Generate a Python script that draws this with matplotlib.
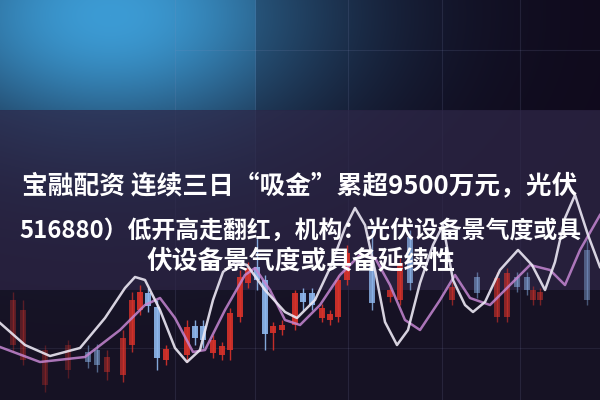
import numpy as np
import matplotlib.pyplot as plt

plt.rcParams['font.family'] = ['Noto Sans CJK SC', 'DejaVu Sans']

# title lines (as they appear, wrapped)
line1 = "宝融配资 连续三日“吸金”累超9500万元，光伏"
line2 = "516880）低开高走翻红，机构：光伏设备景气度或具"
line3 = "伏设备景气度或具备延续性"

# candles: x position, body top, body bottom, wick top, wick bottom, up/down, strength
cx = [13, 23, 45, 68, 88, 97, 107, 123, 132, 140, 148, 157, 166, 187, 195, 203, 213, 222,
      230, 240, 248, 257, 265, 273, 282, 295, 303, 312, 322, 330, 338, 347, 372, 390, 400,
      410, 452, 477, 497, 507, 517, 527, 533, 540, 587]
c_top = [300, 310, 350, 345, 352, 350, 357, 338, 300, 292, 293, 307, 349, 327, 326, 326, 340, 346,
         313, 277, 268, 267, 280, 326, 325, 293, 293, 293, 308, 314, 280, 253, 267, 290, 263,
         237, 287, 277, 278, 273, 277, 277, 290, 292, 250]
c_bot = [345, 360, 385, 370, 362, 365, 372, 375, 345, 310, 306, 358, 360, 355, 338, 340, 353, 355,
         350, 317, 283, 280, 334, 333, 330, 325, 302, 305, 318, 320, 317, 280, 303, 297, 300,
         283, 300, 293, 317, 317, 287, 290, 300, 300, 300]
w_top = [292, 300, 345, 340, 345, 344, 350, 330, 292, 285, 288, 300, 345, 320, 320, 320, 335, 342,
         308, 270, 262, 237, 275, 322, 320, 290, 288, 288, 304, 310, 275, 245, 230, 285, 258,
         230, 282, 272, 272, 268, 272, 272, 286, 288, 240]
w_bot = [352, 365, 392, 378, 368, 372, 380, 382, 352, 315, 312, 370, 365, 362, 345, 348, 358, 360,
         360, 322, 288, 290, 350, 350, 335, 330, 310, 310, 322, 325, 322, 285, 310, 302, 305,
         290, 305, 298, 322, 322, 292, 295, 305, 305, 305]
c_up = [1, 1, 1, 1, 0, 0, 1, 1, 1, 1, 0, 0, 1, 1, 0, 0, 1, 1,
        1, 1, 1, 0, 0, 1, 1, 1, 0, 0, 1, 1, 1, 1, 0, 1, 1,
        0, 1, 0, 1, 1, 0, 0, 1, 1, 0]
c_alpha = [0.35, 0.35, 0.3, 0.3, 0.5, 0.5, 0.45, 0.7, 0.8, 0.9, 0.9, 0.9, 0.9, 0.9, 0.9, 0.9, 0.9, 0.9,
           0.9, 0.9, 0.9, 0.9, 0.9, 0.9, 0.9, 0.9, 0.9, 0.9, 0.9, 0.9, 0.9, 0.9, 0.8, 0.8, 0.8,
           0.7, 0.6, 0.5, 0.6, 0.6, 0.5, 0.5, 0.5, 0.5, 0.4]

# moving average lines
white_x = [0, 25, 50, 80, 105, 125, 135, 145, 160, 175, 187, 200, 213, 223, 235, 247, 265, 285,
           297, 315, 330, 345, 355, 365, 375, 385, 397, 408, 420, 433, 443, 453, 465, 473, 485,
           500, 518, 532, 545, 555, 565, 575, 588, 600]
white_y = [323, 345, 356, 348, 318, 288, 277, 280, 310, 348, 362, 350, 300, 272, 262, 265, 290, 312,
           318, 300, 268, 228, 208, 225, 270, 322, 345, 330, 283, 245, 225, 280, 305, 312, 302,
           270, 250, 265, 290, 262, 218, 195, 235, 267]
pink_x = [0, 40, 85, 120, 145, 160, 175, 193, 205, 225, 245, 255, 270, 285, 300, 320, 340, 360,
          375, 390, 405, 420, 440, 455, 470, 490, 510, 530, 550, 565, 580, 600]
pink_y = [347, 362, 357, 330, 305, 298, 318, 352, 350, 310, 275, 268, 290, 320, 325, 305, 275, 255,
          258, 285, 320, 330, 300, 275, 298, 305, 285, 265, 270, 285, 250, 215]

fig = plt.figure(figsize=(6, 4), dpi=100, facecolor='#140c1e')
ax = fig.add_axes([0, 0, 1, 1])
ax.set_axis_off()

# background: dark purple with a blue glow at top left
yy, xx = np.mgrid[0:400, 0:600]
base = np.zeros((400, 600, 3))
base[:, :] = [16, 10, 28]
base[yy > 110] = [22, 18, 36]
glow = np.exp(-((xx - 110) / 230.0) ** 2 - ((yy - 15) / 140.0) ** 2)
glow[xx > 255] *= 0.75
blue = np.array([60, 155, 212])
bg = base * (1 - glow[..., None]) + blue * glow[..., None]
bg = np.clip(bg, 0, 255).astype(np.uint8)
ax.imshow(bg, extent=(0, 600, 400, 0), aspect='auto', zorder=0)
ax.set_xlim(0, 600)
ax.set_ylim(400, 0)

# faint grid of the chart picture
for gx in [175, 255, 348, 442, 520]:
    ax.axvline(gx, color='#8a90c0', lw=0.8, alpha=0.15, zorder=1)
ax.hlines(50, 175, 600, color='#8a90c0', lw=0.8, alpha=0.15, zorder=1)
ax.axhline(348, color='#8a90c0', lw=0.8, alpha=0.12, zorder=1)

# translucent band behind the title
ax.add_patch(plt.Rectangle((0, 110), 600, 180, facecolor='#2d2546', alpha=0.7, zorder=2, lw=0))

# candles
for i in range(len(cx)):
    col = '#d8322a' if c_up[i] else '#8fb8ee'
    ax.vlines(cx[i], w_top[i], w_bot[i], color=col, lw=1, alpha=c_alpha[i], zorder=3)
    ax.bar(cx[i], c_bot[i] - c_top[i], bottom=c_top[i], width=6, color=col,
           alpha=c_alpha[i], zorder=3, lw=0)

ax.plot(pink_x, pink_y, color='#c586d2', lw=1.8, alpha=0.85, zorder=4)
ax.plot(white_x, white_y, color='#ece8f4', lw=1.8, alpha=0.9, zorder=5)

# title text
kw = dict(color='white', fontweight='bold', va='center', zorder=10)
ax.text(300, 187, line1, ha='center', fontsize=18.5, **kw)
ax.text(300, 231, line2, ha='center', fontsize=17.2, **kw)
ax.text(301, 261, line3, ha='center', fontsize=18.5, **kw)

fig.savefig('out.png', dpi=100, facecolor=fig.get_facecolor())
